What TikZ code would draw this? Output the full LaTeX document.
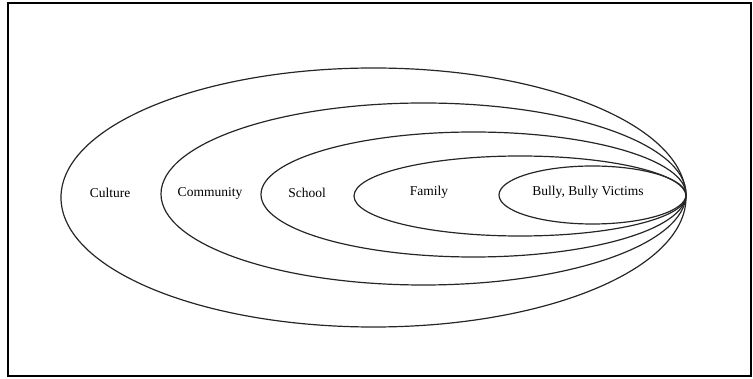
\documentclass[tikz,border=0pt]{standalone}
\usepackage{fontspec}
\setmainfont{Liberation Serif}
\begin{document}
\begin{tikzpicture}[x=1pt,y=-1pt,
  ring/.style={draw=black!85,line width=1.2pt},
  lbl/.style={font=\fontsize{13.5}{15}\selectfont,inner sep=0pt,anchor=center}]
\useasboundingbox (0,0) rectangle (753,379);
\draw[line width=2pt] (8,3) rectangle (751,376);
% rings (all meeting at the right tip)
\draw[ring] (373.5,197.5) ellipse [x radius=312.5pt, y radius=129.5pt];
\draw[ring] (423.5,194) ellipse [x radius=262.5pt, y radius=91pt];
\draw[ring] (473.5,194.5) ellipse [x radius=212.5pt, y radius=62.5pt];
\draw[ring] (520,196) ellipse [x radius=166pt, y radius=40pt];
\draw[ring] (592.5,195) ellipse [x radius=93.5pt, y radius=29pt];
% labels
\node[lbl] (culture) at (110,193) {Culture};
\node[lbl] (community) at (210,193) {Community};
\node[lbl] (school) at (307,193) {School};
\node[lbl] (family) at (429,192) {Family};
\node[lbl] (bully) at (588,192) {Bully, Bully Victims};
\end{tikzpicture}
\end{document}
